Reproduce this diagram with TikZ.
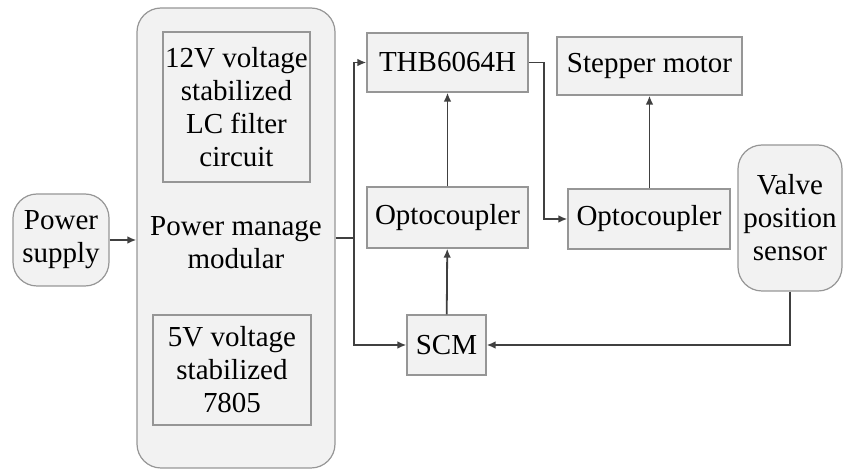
\documentclass[tikz,border=0pt]{standalone}
\usepackage{fontspec}
\setmainfont{Liberation Serif}
\usepackage{tikz}
\usetikzlibrary{positioning, arrows.meta, calc}
\definecolor{cBox}{RGB}{242,242,242}
\definecolor{cEdge}{RGB}{150,150,150}
\definecolor{cLine}{RGB}{64,64,64}

\begin{document}
\begin{tikzpicture}[x=0.5pt, y=-0.5pt,
    blk/.style={draw=cEdge, fill=cBox, line width=0.6pt, align=center, inner sep=0pt,
        font=\fontsize{14.5}{16.5}\selectfont},
    rblk/.style={blk, rounded corners=12pt},
    link/.style={draw=cLine, line width=0.9pt, -{Latex[length=4.5pt,width=3.8pt]}}]
    \useasboundingbox (0,0) rectangle (843,470);

    % Power management
    \node[rblk, minimum width=48pt, minimum height=46pt] (supply) at (61,240) {Power\\supply};
    \node[rblk, minimum width=99pt, minimum height=230pt] (pmm) at (236,238) {};
    \node[font=\fontsize{14.5}{16.5}\selectfont, align=center] (pmmtxt) at (236,243) {Power manage\\modular};
    \node[blk, minimum width=73.5pt, minimum height=75pt] (lc) at (236.5,107) {12V voltage\\stabilized\\LC filter\\circuit};
    \node[blk, minimum width=79pt, minimum height=55pt] (reg) at (232,370) {5V voltage\\stabilized\\7805};

    % Drive chain
    \node[blk, minimum width=80.5pt, minimum height=29.5pt] (thb) at (447.5,62.5) {THB6064H};
    \node[blk, minimum width=92.5pt, minimum height=29pt] (motor) at (649.5,66) {Stepper motor};
    \node[blk, minimum width=80.5pt, minimum height=30.5pt] (opto1) at (447.5,217.5) {Optocoupler};
    \node[blk, minimum width=81pt, minimum height=30pt] (opto2) at (649,219) {Optocoupler};
    \node[rblk, minimum width=52pt, minimum height=73pt] (valve) at (790,218) {Valve\\position\\sensor};
    \node[blk, minimum width=39.5pt, minimum height=30pt] (scm) at (446.5,345) {SCM};
    \coordinate (split) at (354,238);

    % Connections
    \draw[link] (supply.east) -- (supply.east -| pmm.west);
    \draw[draw=cLine, line width=0.9pt] (pmm.east |- split) -- (split);
    \draw[link] (split) |- (thb.west);
    \draw[link] (split) |- (scm.west);
    \draw[link] (opto1) -- (thb);
    \draw[link] (scm) -- (opto1);
    \draw[link] (opto2.north -| motor.south) -- (motor.south);
    \draw[link] (thb.east) -- ++(15,0) |- (opto2.west);
    \draw[link] (valve.south) |- (scm.east);
\end{tikzpicture}
\end{document}
